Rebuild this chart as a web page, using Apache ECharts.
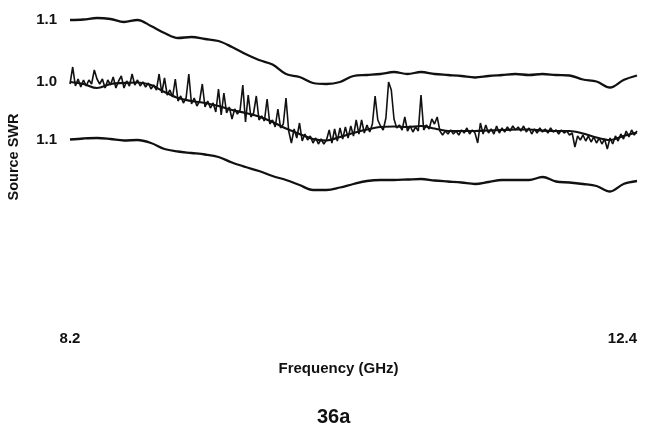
<!DOCTYPE html>
<html>
<head>
<meta charset="utf-8">
<script src="https://cdn.jsdelivr.net/npm/echarts@6/dist/echarts.min.js"></script>
<style>
  html, body { margin: 0; padding: 0; background: #fff; }
  #chart { width: 647px; height: 437px; }
</style>
</head>
<body>
<div id="chart"></div>
<script>
// Swept source match, 8.2 - 12.4 GHz. Three traces are stacked with an offset:
// upper limit, measured trace (raw + averaged), lower limit.
const sweepStart = 8.2;
const coarseStep = 0.1;   // limit curves and averaged trace
const fineStep = 0.02;    // raw swept trace

const upperLimit = [
  62, 62.5, 64, 63, 60, 62, 56, 49, 44, 45,
  43, 41, 35, 28, 22, 17.5, 8, 5, -1, -2,
  0, 6, 7, 8, 10, 8, 10, 8, 7, 6,
  4.5, 6, 7, 8, 7, 8, 7, 6.5, 2.5, 0.5,
  -5.5, 2, 6.5
];

const averagedTrace = [
  0, -2, -6, -2, -1, -0.5, -3, -10, -16, -19,
  -21, -24, -28, -31, -34.5, -40, -46.5, -52, -57, -58.5,
  -55, -51, -47.5, -45, -44.5, -45, -44, -46.5, -49, -49,
  -49, -48.5, -48, -47.5, -47.5, -48.5, -49, -49, -51.5, -55.5,
  -58, -54, -50.5
];

const lowerLimit = [
  -57.5, -56.5, -56, -57, -58.5, -58, -61, -67, -69.5, -71,
  -72.5, -75, -80.5, -85, -89, -94, -98, -103, -108, -108,
  -105.5, -102, -99, -98, -98, -97.5, -97, -98.5, -99.5, -100.5,
  -102, -100, -98, -98, -98, -95, -99.5, -100.5, -102, -104,
  -109.5, -102, -99
];

const rawTrace = [
  -2, 15, -4, 3, -5, 2, -4, 2, -2, 12,
  3, -2, 3, -6, 2, -3, 5, -6, 1, 6,
  -6, 1, -4, 8, -3, 2, -4, 0, -5, -1,
  -7, -3, -8, 8, -11, 4, -13, -8, -15, 3,
  -19, -14, -21, -16, 8, -22, -16, -24, -19, -2,
  -25, -19, -26, -21, -30, -7, -33, -11, -31, -25,
  -37, -27, -32, -28, -3, -40, -13, -35, -31, -14,
  -38, -34, -39, -17, -42, -38, -45, -27, -46, -42,
  -16, -49, -61, -47, -56, -41, -59, -52, -58, -54,
  -61, -56, -62, -57, -62, -58, -48, -61, -47, -59,
  -46, -57, -45, -56, -44, -54, -38, -52, -38, -51,
  -43, -50, -42, -14, -38, -44, -48, -36, 0, -8,
  -37, -46, -43, -48, -35, -49, -44, -50, -45, -49,
  -13, -48, -43, -47, -37, -42, -35, -49, -53, -49,
  -52, -48, -52, -49, -53, -48, -51, -46, -52, -48,
  -51, -61, -41, -52, -43, -51, -47, -52, -44, -51,
  -46, -50, -45, -49, -44, -48, -45, -49, -44, -50,
  -46, -52, -47, -51, -46, -50, -47, -51, -46, -50,
  -48, -52, -48, -51, -49, -53, -51, -65, -54, -58,
  -53, -59, -54, -60, -55, -61, -56, -62, -57, -67,
  -56, -62, -54, -59, -52, -57, -49, -55, -48, -53,
  -49
];

const xTickValues = [8.2, 12.4];
const yTickValues = [62, 0, -57.5];
const yTickLabels = ['1.1', '1.0', '1.1'];

const ink = '#111';
const font = "'Liberation Sans', Arial, Helvetica, sans-serif";

function sweep(values, step) {
  return values.map((v, i) => [+(sweepStart + i * step).toFixed(3), v]);
}

function traceSeries(values, step, width) {
  return {
    type: 'line',
    data: sweep(values, step),
    showSymbol: false,
    symbol: 'none',
    smooth: step === coarseStep ? 0.35 : false,
    lineStyle: { color: ink, width: width },
    silent: true
  };
}

const chart = echarts.init(document.getElementById('chart'), null, { renderer: 'canvas' });

chart.setOption({
  animation: false,
  backgroundColor: '#fff',
  grid: { left: 70, right: 10, top: 10, bottom: 112 },
  title: {
    text: '36a',
    left: 312,
    top: 402,
    textStyle: { fontFamily: font, fontWeight: 'bold', fontSize: 20, color: ink }
  },
  xAxis: {
    type: 'value',
    min: 8.2,
    max: 12.4,
    name: 'Frequency (GHz)',
    nameLocation: 'middle',
    nameGap: 36,
    nameTextStyle: { fontFamily: font, fontWeight: 'bold', fontSize: 15, color: ink, padding: [0, 30, 0, 0] },
    axisLine: { show: false },
    axisTick: { show: false },
    splitLine: { show: false },
    axisLabel: {
      customValues: xTickValues,
      alignMaxLabel: 'right',
      margin: 6,
      fontFamily: font,
      fontWeight: 'bold',
      fontSize: 15,
      color: ink,
      formatter: v => v.toFixed(1)
    }
  },
  yAxis: {
    type: 'value',
    min: -243,
    max: 72,
    axisLine: { show: false },
    axisTick: { show: false },
    splitLine: { show: false },
    axisLabel: {
      customValues: yTickValues,
      margin: 13,
      fontFamily: font,
      fontWeight: 'bold',
      fontSize: 15,
      color: ink,
      formatter: v => {
        const k = yTickValues.indexOf(v);
        return k >= 0 ? yTickLabels[k] : '';
      }
    }
  },
  graphic: [{
    type: 'text',
    x: 14,
    y: 157,
    rotation: Math.PI / 2,
    style: {
      text: 'Source SWR',
      font: 'bold 14.5px ' + font,
      fill: ink,
      align: 'center',
      verticalAlign: 'middle'
    }
  }],
  series: [
    traceSeries(upperLimit, coarseStep, 2.3),
    traceSeries(lowerLimit, coarseStep, 2.3),
    traceSeries(averagedTrace, coarseStep, 2.2),
    traceSeries(rawTrace, fineStep, 1.6)
  ]
});
</script>
</body>
</html>
